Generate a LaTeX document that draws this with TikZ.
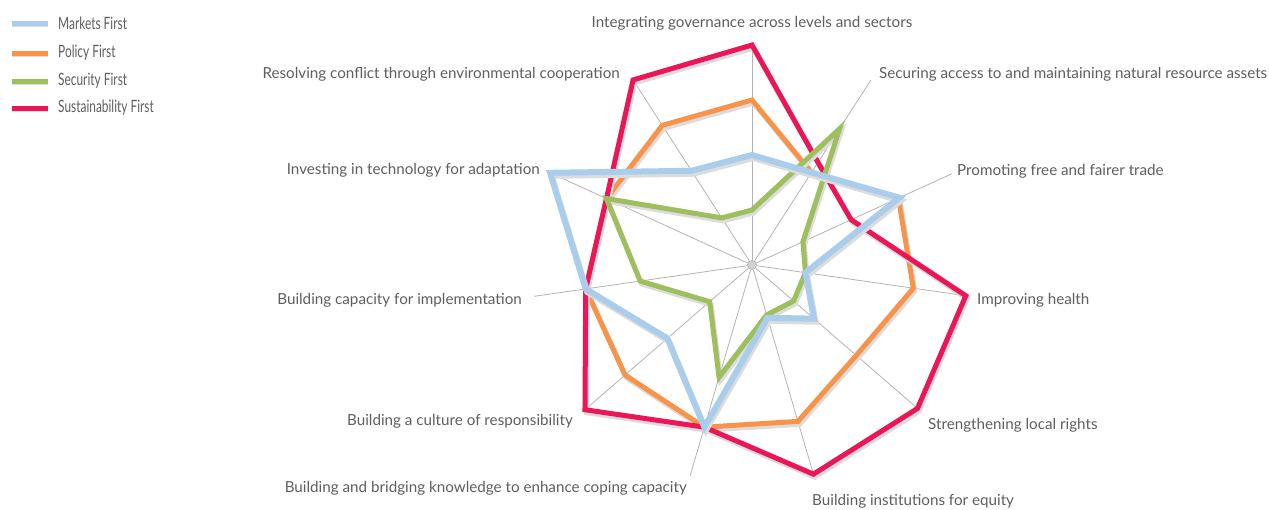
\documentclass[tikz,border=0pt]{standalone}
\usepackage{fontspec}
\setmainfont{Lato}
\usetikzlibrary{calc}
\definecolor{cblue}{HTML}{A9CDEB}
\definecolor{corange}{HTML}{F7944A}
\definecolor{cgreen}{HTML}{9DBF5E}
\definecolor{cpink}{HTML}{EC1556}
\definecolor{cshadow}{HTML}{DCDCDC}
\definecolor{ctext}{HTML}{5E5E5E}
\definecolor{cspoke}{HTML}{B4B4B4}
\newcommand{\radarline}[3]{%
  % #1 colour, #2 width, #3 list of radii
  \def\pts{}%
  \foreach \r [count=\k from 0] in {#3}{%
    \pgfmathsetmacro{\ang}{\k*360/11-90}%
    \xdef\pts{\pts (\ang:\r) --}%
  }%
  \draw[shift={(753.5,268)},line width=#2,cshadow,line join=miter] \pts cycle;
  \draw[shift={(752,265)},line width=#2,#1,line join=miter] \pts cycle;
}
\begin{document}
\begin{tikzpicture}[x=1pt,y=-1pt,
  lbl/.style={font=\fontsize{15.2}{17}\selectfont,text=ctext,inner sep=0pt},
  leg/.style={font=\fontsize{17}{19}\selectfont,text=ctext,inner sep=0pt,anchor=west},
  spoke/.style={cspoke,line width=0.8pt}]
\useasboundingbox (0,0) rectangle (1269,509);
% spokes
\coordinate (c) at (752,265);
\foreach \k in {0,...,10}{
  \pgfmathsetmacro{\ang}{\k*360/11-90}
  \draw[spoke,shift={(752,265)}] (\ang:5) -- (\ang:220);
}
\draw[cspoke,line width=0.8pt,fill=cspoke!60] (c) circle (4.5);
% series
\radarline{corange}{5pt}{165,110,161,163,138,163,169,168,168,160,166}
\radarline{cpink}{5pt}{220,122,109,216,219,218,169,221,168,160,220}
\radarline{cgreen}{5pt}{55,162,56,54,55,52,117,56,113,160,56}
\radarline{cblue}{6pt}{110,110,162,54,82,55,169,112,168,222,112}
% labels
\node[lbl,anchor=base] (l0) at (752,27) {Integrating governance across levels and sectors};
\node[lbl,anchor=base west] (l1) at (879,78) {Securing access to and maintaining natural resource assets};
\node[lbl,anchor=base west] (l2) at (957,175) {Promoting free and fairer trade};
\node[lbl,anchor=base west] (l3) at (977,304) {Improving health};
\node[lbl,anchor=base west] (l4) at (928,429) {Strengthening local rights};
\node[lbl,anchor=base west] (l5) at (812,505) {Building institutions for equity};
\node[lbl,anchor=base east] (l6) at (687,492) {Building and bridging knowledge to enhance coping capacity};
\node[lbl,anchor=base east] (l7) at (573,425) {Building a culture of responsibility};
\node[lbl,anchor=base east] (l8) at (522,304) {Building capacity for implementation};
\node[lbl,anchor=base east] (l9) at (540,174) {Investing in technology for adaptation};
\node[lbl,anchor=base east] (l10) at (620,78) {Resolving conflict through environmental cooperation};
% legend
\foreach \col/\txt/\y/\nm in {cblue/Markets First/23/m,corange/Policy First/53/p,cgreen/Security First/81/s,cpink/Sustainability First/108/u}{
  \draw[cshadow,line width=5pt] (12,\y+1.5) -- (48,\y+1.5);
  \draw[\col,line width=5pt] (12,\y) -- (48,\y);
  \node[leg] (leg\nm) at (58,\y) {\scalebox{0.7}[1]{\txt}};
}
\end{tikzpicture}
\end{document}
